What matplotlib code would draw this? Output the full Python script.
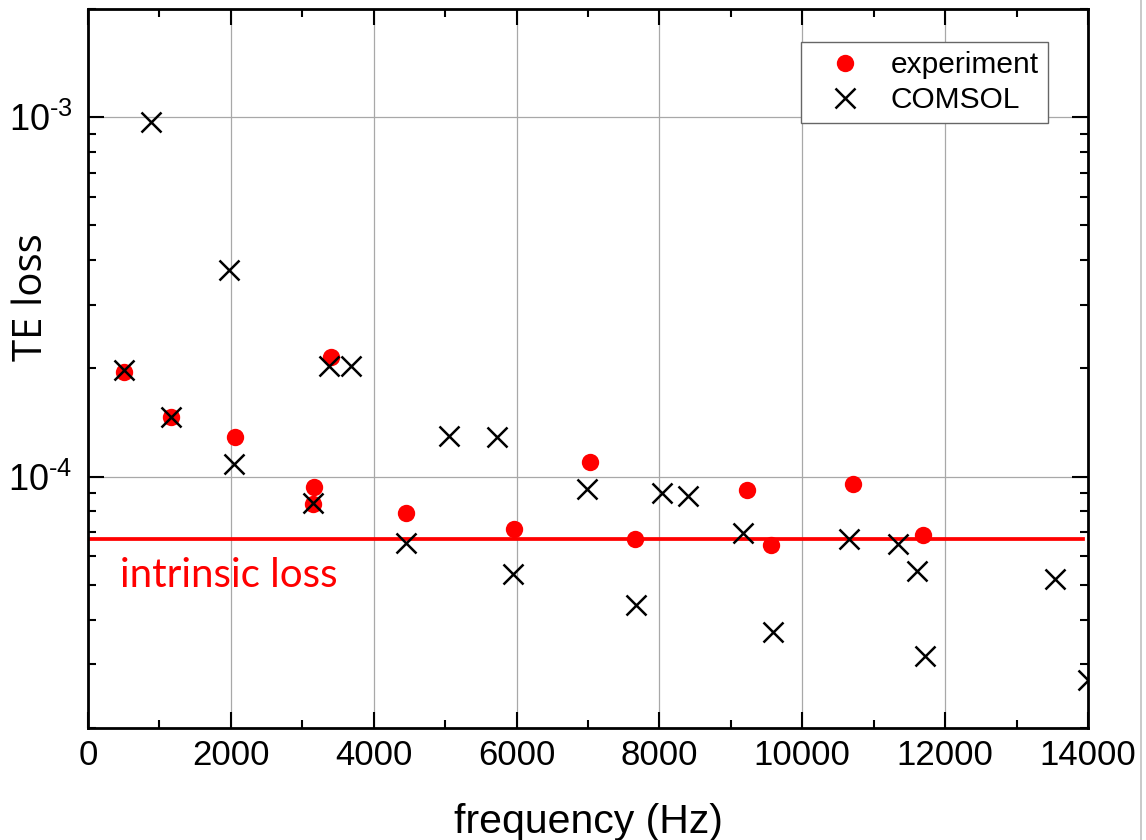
import matplotlib
matplotlib.use("Agg")
import matplotlib.pyplot as plt
from matplotlib.ticker import FixedLocator, FixedFormatter, MultipleLocator, LogLocator, NullFormatter
from matplotlib.lines import Line2D
from matplotlib.transforms import blended_transform_factory

# ---- data ----
exp_freq = [504, 1167, 2058, 3159, 3150, 3398, 4457, 5964, 7032, 7663, 9221, 9567, 10715, 11695]
exp_loss = [1.96e-4, 1.46e-4, 1.285e-4, 9.35e-5, 8.4e-5, 2.15e-4, 7.94e-5, 7.13e-5, 1.10e-4,
            6.68e-5, 9.16e-5, 6.44e-5, 9.56e-5, 6.89e-5]

comsol_freq = [504, 877, 1167, 1974, 2040, 3150, 3370, 3687, 4457, 5050, 5722, 5955, 6990, 7668,
               8040, 8400, 9175, 9590, 10650, 11340, 11600, 11713, 13533, 14000]
comsol_loss = [1.98e-4, 9.68e-4, 1.46e-4, 3.76e-4, 1.087e-4, 8.44e-5, 2.03e-4, 2.03e-4, 6.55e-5,
               1.30e-4, 1.285e-4, 5.34e-5, 9.24e-5, 4.38e-5, 8.97e-5, 8.85e-5, 6.97e-5, 3.69e-5,
               6.68e-5, 6.48e-5, 5.46e-5, 3.16e-5, 5.20e-5, 2.71e-5]

intrinsic_loss = 6.69e-5

x_ticks = [0, 2000, 4000, 6000, 8000, 10000, 12000, 14000]
x_ticklabels = ["0", "2000", "4000", "6000", "8000", "10000", "12000", "14000"]
y_ticks = [1e-4, 1e-3]
y_ticklabels = [r"$\mathregular{10^{\text{-}4}}$", r"$\mathregular{10^{\text{-}3}}$"]

plt.rcParams['font.family'] = ['Liberation Sans', 'DejaVu Sans']
plt.rcParams['mathtext.fontset'] = 'custom'
plt.rcParams['mathtext.rm'] = 'Liberation Sans'

fig = plt.figure(figsize=(11.46, 8.40), dpi=100)
ax = fig.add_axes([88/1146, 1 - 727.7/840, 1000/1146, (727.7 - 9)/840])

ax.set_yscale('log')
ax.set_xlim(0, 14000)
ax.set_ylim(2e-5, 2e-3)

ax.axhline(intrinsic_loss, xmin=0, xmax=0.995, color='#ff0000', lw=2.7, zorder=2)

ax.plot(exp_freq, exp_loss, linestyle='none', marker='o', color='#ff0000',
        markersize=12.5, markeredgewidth=0, label='experiment', zorder=3)
ax.plot(comsol_freq, comsol_loss, linestyle='none', marker='x', color='black',
        markersize=15, markeredgewidth=1.8, label='COMSOL', zorder=4)

# ticks
ax.xaxis.set_major_locator(FixedLocator(x_ticks))
ax.xaxis.set_major_formatter(FixedFormatter(x_ticklabels))
ax.xaxis.set_minor_locator(MultipleLocator(1000))
ax.yaxis.set_major_locator(FixedLocator(y_ticks))
ax.yaxis.set_major_formatter(FixedFormatter(y_ticklabels))
ax.yaxis.set_minor_locator(LogLocator(base=10, subs=range(2, 10)))
ax.yaxis.set_minor_formatter(NullFormatter())

ax.tick_params(which='both', direction='in', top=True, right=True, width=1.5, colors='black')
ax.tick_params(which='major', length=11.5)
ax.tick_params(which='minor', length=6)
ax.tick_params(axis='x', which='major', labelsize=25, pad=8)
ax.tick_params(axis='y', which='major', labelsize=26, pad=11)

for sp in ax.spines.values():
    sp.set_linewidth(2.0)

ax.grid(True, which='major', color='#a8a8a8', linewidth=0.9)
ax.set_axisbelow(True)

ax.set_xlabel('frequency (Hz)', fontsize=29.5)
ax.xaxis.set_label_coords(0.5, -0.1465)
ax.xaxis.label.set_va('baseline')

ax.set_ylabel('TE loss', fontsize=29, family=['Open Sans', 'DejaVu Sans'])
ax.yaxis.set_label_coords(-0.056, 0.599)
ax.yaxis.label.set_va('center')
ax.yaxis.label.set_ha('center')

trans = blended_transform_factory(ax.transAxes, ax.transData)
ax.text(0.032, 4.93e-5, 'intrinsic loss', transform=trans, color='#ff0000',
        fontsize=29, family=['Lato', 'DejaVu Sans'], ha='left', va='baseline', zorder=5)

leg = ax.legend(loc='upper right', bbox_to_anchor=(0.96, 0.954), borderaxespad=0,
                fontsize=21.5, frameon=True, fancybox=False, framealpha=1,
                edgecolor='#666666', handlelength=2.3, handletextpad=0.4,
                borderpad=0.3, labelspacing=0.25)
leg.get_frame().set_linewidth(1.0)

# thin grey line at right border of the picture
fig.add_artist(Line2D([1141/1146, 1141/1146], [0, 1], transform=fig.transFigure,
                      color='#c0c0c0', linewidth=1.2))

fig.savefig('out.png', dpi=100)
